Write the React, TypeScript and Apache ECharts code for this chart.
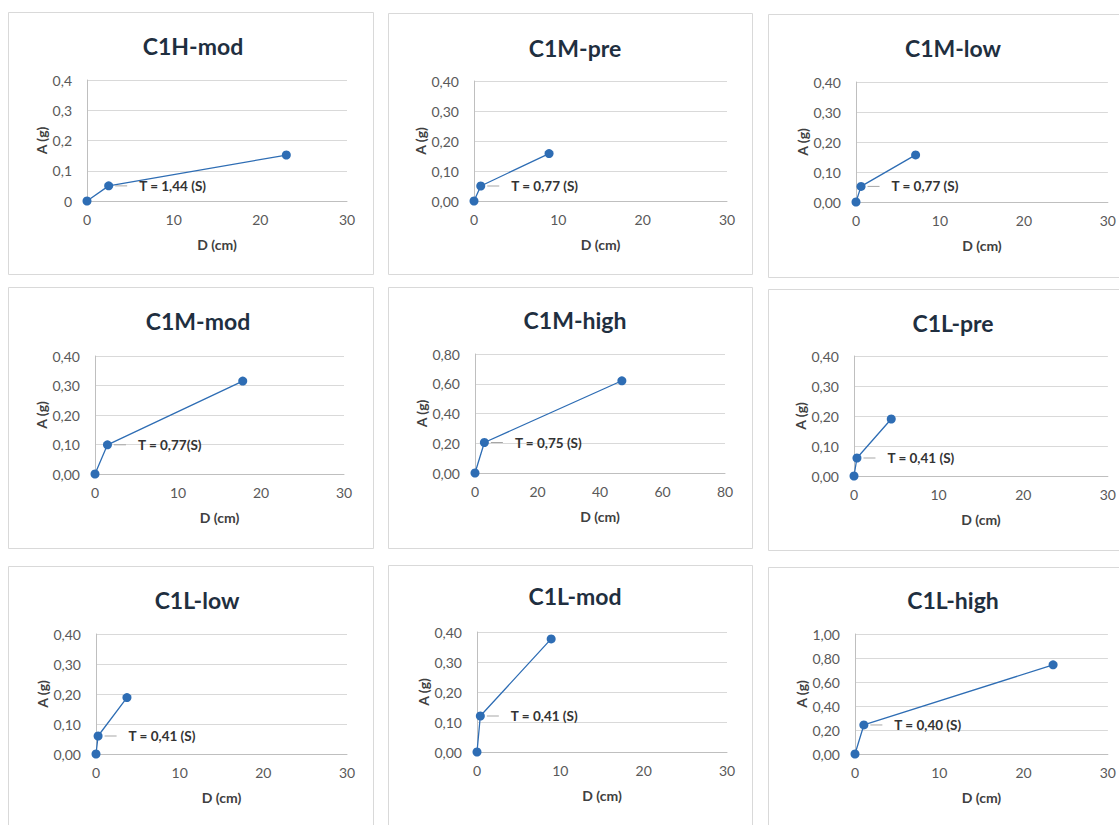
import React, { useEffect, useRef } from "react";
import * as echarts from "echarts";

const titles = ["C1H-mod", "C1M-pre", "C1M-low", "C1M-mod", "C1M-high", "C1L-pre", "C1L-low", "C1L-mod", "C1L-high"];
const dValues = [
  [0, 2.5, 23.0],
  [0, 0.8, 8.9],
  [0, 0.6, 7.1],
  [0, 1.5, 17.8],
  [0, 3.0, 47.0],
  [0, 0.35, 4.4],
  [0, 0.25, 3.7],
  [0, 0.4, 8.9],
  [0, 1.05, 23.5],
];
const aValues = [
  [0, 0.05, 0.152],
  [0, 0.05, 0.158],
  [0, 0.052, 0.157],
  [0, 0.099, 0.315],
  [0, 0.205, 0.62],
  [0, 0.06, 0.19],
  [0, 0.06, 0.188],
  [0, 0.12, 0.377],
  [0, 0.242, 0.743],
];
const periodLabels = ["T = 1,44 (S)", "T = 0,77 (S)", "T = 0,77 (S)", "T = 0,77(S)", "T = 0,75 (S)", "T = 0,41 (S)", "T = 0,41 (S)", "T = 0,41 (S)", "T = 0,40 (S)"];
const yMax = [0.4, 0.4, 0.4, 0.4, 0.8, 0.4, 0.4, 0.4, 1.0];
const yStep = [0.1, 0.1, 0.1, 0.1, 0.2, 0.1, 0.1, 0.1, 0.2];
const yDecimals = [1, 2, 2, 2, 2, 2, 2, 2, 2];
const xMax = [30, 30, 30, 30, 80, 30, 30, 30, 30];
const xStep = [10, 10, 10, 10, 20, 10, 10, 10, 10];
const xAxisName = "D (cm)";
const yAxisName = "A (g)";

// layout (pixels)
const panels = [
  { bx: 8, by: 12, bw: 365, bh: 262, gl: 87, gt: 80, gw: 260, gh: 121, tx: 188, ty: 43 },
  { bx: 388, by: 13, bw: 364, bh: 261, gl: 474, gt: 81, gw: 253, gh: 120, tx: 570, ty: 45 },
  { bx: 768, by: 14, bw: 360, bh: 263, gl: 856, gt: 82, gw: 252, gh: 120, tx: 948, ty: 45 },
  { bx: 8, by: 287, bw: 365, bh: 261, gl: 95, gt: 356, gw: 249, gh: 118, tx: 193, ty: 318 },
  { bx: 388, by: 287, bw: 364, bh: 261, gl: 475, gt: 354, gw: 250, gh: 119, tx: 570, ty: 317 },
  { bx: 768, by: 289, bw: 360, bh: 261, gl: 854, gt: 356, gw: 254, gh: 120, tx: 948, ty: 320 },
  { bx: 8, by: 566, bw: 365, bh: 270, gl: 96, gt: 634, gw: 251, gh: 120, tx: 192, ty: 597 },
  { bx: 388, by: 565, bw: 364, bh: 270, gl: 477, gt: 632, gw: 250, gh: 120, tx: 570, ty: 593 },
  { bx: 768, by: 567, bw: 360, bh: 270, gl: 855, gt: 634, gw: 253, gh: 120, tx: 948, ty: 597 },
];

const FONT = "Lato";
const BLUE = "#2E6DB4";

export default function App() {
  const ref = useRef<HTMLDivElement>(null);
  useEffect(() => {
    if (!ref.current) return;
    const chart = echarts.init(ref.current, undefined, { renderer: "svg" });
    const grid: any[] = [];
    const xAxis: any[] = [];
    const yAxis: any[] = [];
    const series: any[] = [];
    const title: any[] = [];
    const graphic: any[] = [];
    panels.forEach((p, i) => {
      graphic.push({
        type: "rect",
        shape: { x: p.bx + 0.5, y: p.by + 0.5, width: p.bw, height: p.bh },
        style: { fill: "#ffffff", stroke: "#d9d9d9", lineWidth: 1 },
        z: -10,
        silent: true,
      });
      title.push({
        text: titles[i],
        left: p.tx,
        top: p.ty - 14,
        textAlign: "center",
        textStyle: { fontFamily: FONT, fontWeight: "bold", fontSize: 23, color: "#1f2f40" },
      });
      grid.push({ left: p.gl, top: p.gt, width: p.gw, height: p.gh, containLabel: false });
      xAxis.push({
        type: "value",
        gridIndex: i,
        min: 0,
        max: xMax[i],
        interval: xStep[i],
        name: xAxisName,
        nameLocation: "middle",
        nameGap: 36,
        nameTextStyle: { fontFamily: FONT, fontWeight: "bold", fontSize: 14, color: "#404040" },
        axisLine: { show: true, lineStyle: { color: "#bfbfbf", width: 1 } },
        axisTick: { show: false },
        splitLine: { show: false },
        axisLabel: { margin: 11, fontFamily: FONT, fontSize: 14, color: "#595959" },
      });
      yAxis.push({
        type: "value",
        gridIndex: i,
        min: 0,
        max: yMax[i],
        interval: yStep[i],
        name: yAxisName,
        nameLocation: "middle",
        nameRotate: 90,
        nameGap: 39,
        nameTextStyle: { fontFamily: FONT, fontWeight: "bold", fontSize: 14, color: "#404040" },
        axisLine: { show: true, lineStyle: { color: "#bfbfbf", width: 1 } },
        axisTick: { show: false },
        splitLine: { show: true, lineStyle: { color: "#d9d9d9", width: 1 } },
        axisLabel: {
          margin: 15,
          fontFamily: FONT,
          fontSize: 14,
          color: "#595959",
          formatter: (v: number) =>
            v === 0 && yDecimals[i] === 1 ? "0" : v.toFixed(yDecimals[i]).replace(".", ","),
        },
      });
      series.push({
        type: "line",
        xAxisIndex: i,
        yAxisIndex: i,
        symbol: "circle",
        symbolSize: 9,
        lineStyle: { color: BLUE, width: 1.3 },
        itemStyle: { color: BLUE },
        data: dValues[i].map((d, k) => {
          const item: any = { value: [d, aValues[i][k]] };
          if (k === 1) {
            item.label = {
              show: true,
              position: "right",
              distance: 2,
              formatter: "{ln|}{t|" + periodLabels[i] + "}",
              rich: {
                ln: { width: 12, height: 1, backgroundColor: "#a6a6a6" },
                t: {
                  padding: [0, 0, 0, 12],
                  fontFamily: FONT,
                  fontWeight: "bold",
                  fontSize: 13.5,
                  color: "#333333",
                },
              },
            };
          }
          return item;
        }),
      });
    });
    chart.setOption({
      animation: false,
      backgroundColor: "#ffffff",
      title,
      grid,
      xAxis,
      yAxis,
      series,
      graphic,
    });
    return () => chart.dispose();
  }, []);
  return (
    <div
      ref={ref}
      style={{ position: "fixed", left: 0, top: 0, width: 1119, height: 825, background: "#fff" }}
    />
  );
}
